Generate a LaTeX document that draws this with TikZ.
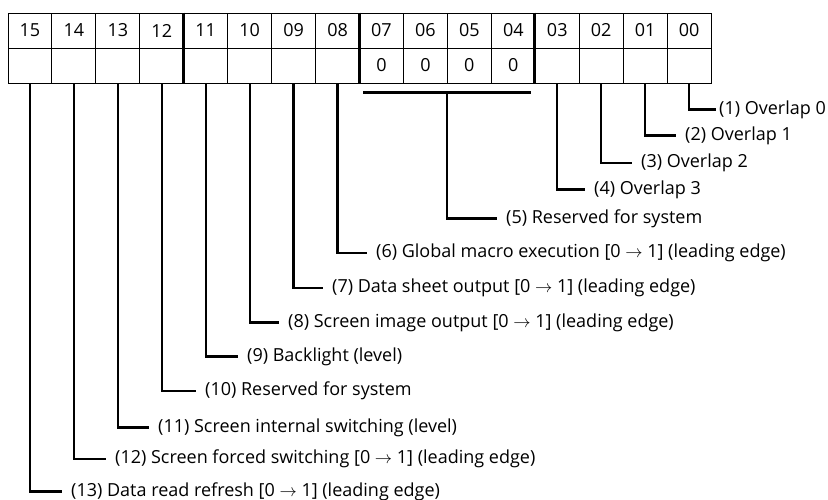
\documentclass[tikz,border=0pt]{standalone}
\usepackage{fontspec}
\setmainfont{Open Sans}
\usetikzlibrary{positioning,calc}

\begin{document}
\begin{tikzpicture}[x=1pt, y=-1pt,
    cell/.style={rectangle, draw, line width=1pt, minimum width=43.94pt, minimum height=35pt, inner sep=0pt, font=\fontsize{18}{20}\selectfont},
    divider/.style={line width=3pt},
    lead/.style={line width=2.3pt},
    note/.style={anchor=west, inner xsep=9pt, inner ysep=0pt, font=\fontsize{18}{20}\selectfont}
]
    \useasboundingbox (0,0) rectangle (828,499);

    % Bit cells
    \foreach \b/\v [count=\k from 0] in {15/{},14/{},13/{},12/{},11/{},10/{},09/{},08/{},07/0,06/0,05/0,04/0,03/{},02/{},01/{},00/{}} {
        \node[cell] (h\b) at ({29.97+43.94*\k},30.5) {\b};
        \node[cell] (v\b) at ({29.97+43.94*\k},65.5) {\v};
    }

    % Group dividers
    \draw[divider] (h11.north west) -- (v11.south west);
    \draw[divider] (h07.north west) -- (v07.south west);
    \draw[divider] (h03.north west) -- (v03.south west);

    % Notes
    \node[note, inner xsep=3pt] (n1) at (716,109.5) {(1) Overlap 0};
    \node[note] (n2) at (676,135.5) {(2) Overlap 1};
    \node[note] (n3) at (632,163) {(3) Overlap 2};
    \node[note] (n4) at (585,189.5) {(4) Overlap 3};
    \node[note] (n5) at (497,218.5) {(5) Reserved for system};
    \node[note] (n6) at (367,253) {(6) Global macro execution [0 $\rightarrow$ 1] (leading edge)};
    \node[note] (n7) at (323,288) {(7) Data sheet output [0 $\rightarrow$ 1] (leading edge)};
    \node[note] (n8) at (279,322.5) {(8) Screen image output [0 $\rightarrow$ 1] (leading edge)};
    \node[note] (n9) at (238,356.5) {(9) Backlight (level)};
    \node[note] (n10) at (196,391) {(10) Reserved for system};
    \node[note] (n11) at (149,427.5) {(11) Screen internal switching (level)};
    \node[note] (n12) at (106,459) {(12) Screen forced switching [0 $\rightarrow$ 1] (leading edge)};
    \node[note] (n13) at (62,491.5) {(13) Data read refresh [0 $\rightarrow$ 1] (leading edge)};

    % Reserved bits bracket
    \draw[lead] ([shift={(4,9)}]v07.south west) coordinate (rl) -- ([shift={(-5,9)}]v04.south east) coordinate (rr);
    \coordinate (rsv) at ($(rl)!0.5!(rr)$);

    % Leader lines
    \draw[lead] (v00.south) |- (n1.west);
    \draw[lead] (v01.south) |- (n2.west);
    \draw[lead] (v02.south) |- (n3.west);
    \draw[lead] (v03.south) |- (n4.west);
    \draw[lead] (rsv) |- (n5.west);
    \draw[lead] (v08.south) |- (n6.west);
    \draw[lead] (v09.south) |- (n7.west);
    \draw[lead] (v10.south) |- (n8.west);
    \draw[lead] (v11.south) |- (n9.west);
    \draw[lead] (v12.south) |- (n10.west);
    \draw[lead] (v13.south) |- (n11.west);
    \draw[lead] (v14.south) |- (n12.west);
    \draw[lead] (v15.south) |- (n13.west);

\end{tikzpicture}
\end{document}
